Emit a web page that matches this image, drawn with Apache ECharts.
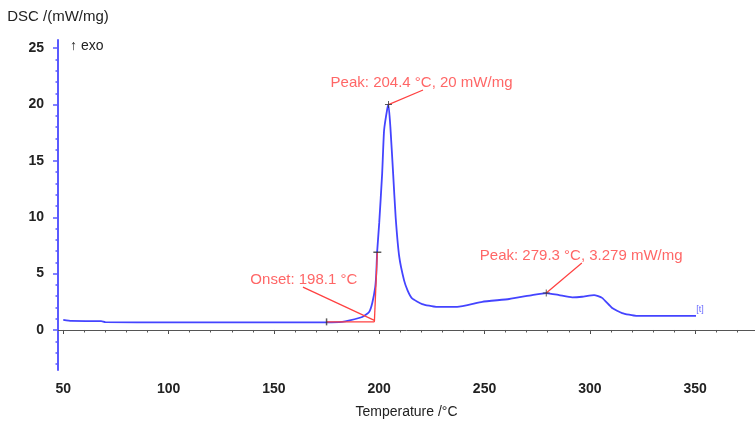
<!DOCTYPE html>
<html><head><meta charset="utf-8">
<script src="https://cdn.jsdelivr.net/npm/echarts@6/dist/echarts.min.js"></script>
<style>html,body{margin:0;padding:0;background:#fff}#c{width:755px;height:429px}</style>
</head><body><div id="c"></div>
<script>
// DSC curve
const temperature = [50, 53.8, 68, 70, 100, 150, 175, 182.4, 186, 191.9, 195.2, 196.7, 198.1, 198.6, 199.0, 200.0, 201.4, 202.3, 203.8, 204.4, 205.3, 206.6, 207.8, 209.5, 211.8, 213.5, 215.6, 220.4, 227.0, 237.0, 248.9, 261.7, 272.6, 279.3, 285.4, 291.6, 296.3, 302.0, 305.8, 310.6, 315.3, 322.0, 350.4];
const dsc         = [0.89, 0.80, 0.78, 0.69, 0.68, 0.68, 0.68, 0.72, 0.85, 1.15, 1.6, 2.4, 3.8, 5.0, 6.9, 9.5, 13.9, 17.7, 19.6, 20.0, 18.0, 13.9, 10.0, 6.5, 4.4, 3.5, 2.8, 2.3, 2.05, 2.05, 2.5, 2.75, 3.1, 3.279, 3.1, 2.9, 2.95, 3.1, 2.85, 1.95, 1.5, 1.25, 1.25];

// axis ticks
const xTickLabels = [50, 100, 150, 200, 250, 300, 350];
const xMinorTicks = [50, 60, 70, 80, 90, 100, 110, 120, 130, 140, 150, 160, 170, 180, 190, 200, 210, 220, 230, 240, 250, 260, 270, 280, 290, 300, 310, 320, 330, 340, 350, 360, 370];
const yTickLabels = [0, 5, 10, 15, 20, 25];
const yMinorTicks = [-3, -2, -1, 0, 1, 2, 3, 4, 5, 6, 7, 8, 9, 10, 11, 12, 13, 14, 15, 16, 17, 18, 19, 20, 21, 22, 23, 24, 25];

// onset construction
const onsetBaseline = [[175, 0.72], [197.7, 0.72]];
const onsetTangent  = [[197.7, 0.72], [199.1, 6.9]];
const onsetLeader   = [[163.8, 3.8], [197.7, 0.85]];
const peak1Leader   = [[220.8, 21.3], [204.4, 20.0]];
const peak2Leader   = [[296.2, 5.95], [279.3, 3.279]];

// annotation texts (anchor in data units)
const annotations = [
  {value: [164.2, 4.44], text: 'Onset: 198.1 °C'},
  {value: [220.1, 21.9], text: 'Peak: 204.4 °C, 20 mW/mg'},
  {value: [295.9, 6.57], text: 'Peak: 279.3 °C, 3.279 mW/mg'}
];
const peakMarks = [[204.4, 20.0], [279.3, 3.279]];
const onsetStartMark = [[175, 0.72]];
const onsetEndMark = [[199.1, 6.9]];
const endMark = [[350.4, 1.25]];

const FONT = "'Liberation Sans', Arial, sans-serif";
const RED = '#ff4040';
const XMIN = 47.5, XMAX = 378.4, YMIN = -3.55, YMAX = 25.73;

const chart = echarts.init(document.getElementById('c'), null, {renderer: 'canvas'});
const crossPath = 'path://M0,4.3L10,4.3L10,5.7L0,5.7Z M4.3,0L5.7,0L5.7,10L4.3,10Z';

chart.setOption({
  animation: false,
  backgroundColor: '#fff',
  textStyle: {fontFamily: FONT},
  title: {
    text: '↑ exo', left: 65, top: 34,
    textStyle: {fontSize: 14, fontWeight: 'normal', color: '#222', fontFamily: FONT}
  },
  grid: {left: 58, right: 0, top: 40, bottom: 59, containLabel: false},
  xAxis: [{
    type: 'value', min: XMIN, max: XMAX,
    name: 'Temperature /°C', nameLocation: 'middle', nameGap: 35,
    nameTextStyle: {fontSize: 14, color: '#222', fontFamily: FONT},
    axisLine: {show: true, lineStyle: {color: '#555', width: 1}},
    axisTick: {show: true, customValues: xTickLabels, length: 4, lineStyle: {color: '#444'}},
    axisLabel: {customValues: xTickLabels, margin: 12, fontSize: 14, fontWeight: 'bold', color: '#222', fontFamily: FONT, showMinLabel: true, showMaxLabel: true},
    splitLine: {show: false}
  }, {
    type: 'value', min: XMIN, max: XMAX, position: 'bottom',
    axisLine: {show: false},
    axisTick: {show: true, customValues: xMinorTicks, length: 2.5, lineStyle: {color: '#555'}},
    axisLabel: {show: false},
    splitLine: {show: false}
  }],
  yAxis: [{
    type: 'value', min: YMIN, max: YMAX,
    name: 'DSC /(mW/mg)', nameLocation: 'end', nameGap: 16,
    nameTextStyle: {fontSize: 15, color: '#222', fontFamily: FONT, align: 'center'},
    axisLine: {show: true, lineStyle: {color: '#5a5aff', width: 2}},
    axisTick: {show: true, customValues: yTickLabels, length: 5, lineStyle: {color: '#5a5aff', width: 1.5}},
    axisLabel: {customValues: yTickLabels, margin: 14, fontSize: 14, fontWeight: 'bold', color: '#222', fontFamily: FONT},
    splitLine: {show: false}
  }, {
    type: 'value', min: YMIN, max: YMAX, position: 'left',
    axisLine: {show: false},
    axisTick: {show: true, customValues: yMinorTicks, length: 2.5, lineStyle: {color: '#5a5aff', width: 1.5}},
    axisLabel: {show: false},
    splitLine: {show: false}
  }],
  series: [
    {
      name: 'DSC', type: 'line', showSymbol: false, smooth: 0.15,
      data: temperature.map((t, i) => [t, dsc[i]]),
      lineStyle: {color: '#4444ff', width: 1.8}, z: 3
    },
    {type: 'line', data: onsetBaseline, showSymbol: false, lineStyle: {color: RED, width: 1.3}, z: 4},
    {type: 'line', data: onsetTangent, showSymbol: false, lineStyle: {color: RED, width: 1.3}, z: 4},
    {type: 'line', data: onsetLeader, showSymbol: false, lineStyle: {color: RED, width: 1.2}, z: 4},
    {type: 'line', data: peak1Leader, showSymbol: false, lineStyle: {color: RED, width: 1.2}, z: 4},
    {type: 'line', data: peak2Leader, showSymbol: false, lineStyle: {color: RED, width: 1.2}, z: 4},
    {type: 'scatter', data: peakMarks, symbol: crossPath, symbolSize: 7, itemStyle: {color: '#333'}, z: 5},
    {type: 'scatter', data: onsetStartMark, symbol: 'rect', symbolSize: [1.5, 7], itemStyle: {color: '#333'}, z: 5},
    {type: 'scatter', data: onsetEndMark, symbol: 'rect', symbolSize: [8, 1.5], itemStyle: {color: '#333'}, z: 5},
    {
      type: 'scatter', data: endMark, symbolSize: 0,
      label: {show: true, position: 'inside', offset: [4, -6], formatter: '[t]', fontSize: 9, color: '#4444ff', fontFamily: FONT}, z: 5
    },
    {
      type: 'scatter', symbolSize: 0,
      data: annotations.map(a => ({value: a.value, name: a.text})),
      label: {show: true, position: 'inside', formatter: p => p.name, fontSize: 15, color: RED, fontFamily: FONT},
      z: 6
    }
  ]
});
</script>
</body></html>
